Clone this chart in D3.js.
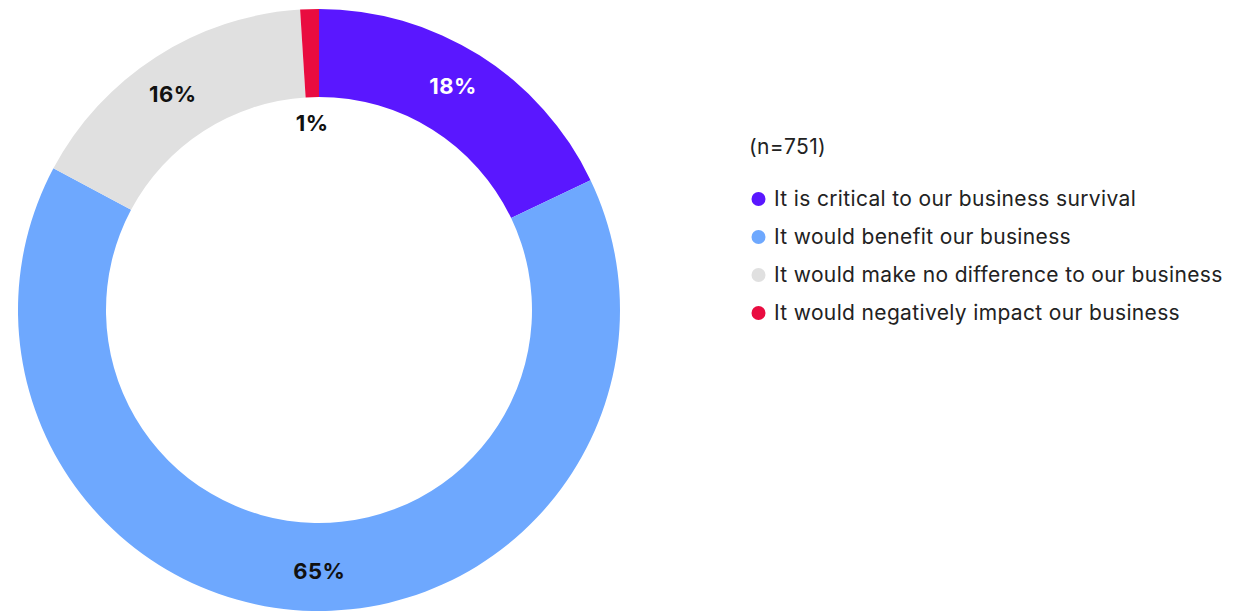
<!DOCTYPE html>
<html>
<head>
<meta charset="utf-8">
<script src="https://cdn.jsdelivr.net/npm/d3@7"></script>
<style>
  html, body { margin: 0; padding: 0; background: #fff; }
  svg { display: block; }
</style>
</head>
<body>
<svg id="chart" width="1245" height="611"></svg>
<script>
const categories = [
  "It is critical to our business survival",
  "It would benefit our business",
  "It would make no difference to our business",
  "It would negatively impact our business"
];
const values = [17.9, 64.9, 16.2, 1.0];
const colors = ["#5A17FF", "#6EA8FE", "#E0E0E0", "#E90C40"];
const labelColors = ["#ffffff", "#111111", "#111111", "#111111"];
const sampleNote = "(n=751)";

const data = categories.map((c, i) => ({ category: c, value: values[i], color: colors[i], labelColor: labelColors[i] }));

const svg = d3.select("#chart");
const cx = 319, cy = 310, outerR = 301, innerR = 213;

const pie = d3.pie().value(d => d.value).sort(null);
const arc = d3.arc().innerRadius(innerR).outerRadius(outerR);
const arcs = pie(data);

const g = svg.append("g").attr("transform", `translate(${cx},${cy})`);
g.selectAll("path.slice").data(arcs).enter().append("path")
  .attr("class", "slice")
  .attr("d", arc)
  .attr("fill", d => d.data.color);

function labelPos(d) {
  const small = d.data.value < 3;
  const r = small ? 187 : 261;
  const a = (d.startAngle + d.endAngle) / 2 - (small ? 0.005 : 0.023);
  return [r * Math.sin(a), -r * Math.cos(a)];
}
g.selectAll("text.lbl").data(arcs).enter().append("text")
  .attr("class", "lbl")
  .attr("transform", d => { const p = labelPos(d); return `translate(${p[0]},${p[1]})`; })
  .attr("text-anchor", "middle")
  .attr("dy", "0.36em")
  .attr("font-family", "Inter, 'DejaVu Sans', sans-serif")
  .attr("font-weight", 700)
  .attr("font-size", 22)
  .attr("letter-spacing", 0.5)
  .attr("fill", d => d.data.labelColor)
  .text(d => Math.round(d.data.value) + "%");

// Legend
const legend = svg.append("g").attr("transform", "translate(749,0)");
legend.append("text")
  .attr("x", 0).attr("y", 147).attr("dy", "0.35em")
  .attr("font-family", "Inter, sans-serif")
  .attr("font-size", 21)
  .attr("letter-spacing", 0.35)
  .attr("fill", "#222")
  .text(sampleNote);

const rowY = d3.scalePoint().domain(categories).range([199, 313]);
const items = legend.selectAll("g.item").data(data).enter().append("g")
  .attr("class", "item")
  .attr("transform", d => `translate(0,${rowY(d.category)})`);
items.append("circle").attr("cx", 9.5).attr("cy", 0).attr("r", 7).attr("fill", d => d.color);
items.append("text")
  .attr("x", 25).attr("y", 0).attr("dy", "0.35em")
  .attr("font-family", "Inter, sans-serif")
  .attr("font-size", 21)
  .attr("letter-spacing", 0.35)
  .attr("fill", "#222")
  .text(d => d.category);
</script>
</body>
</html>
